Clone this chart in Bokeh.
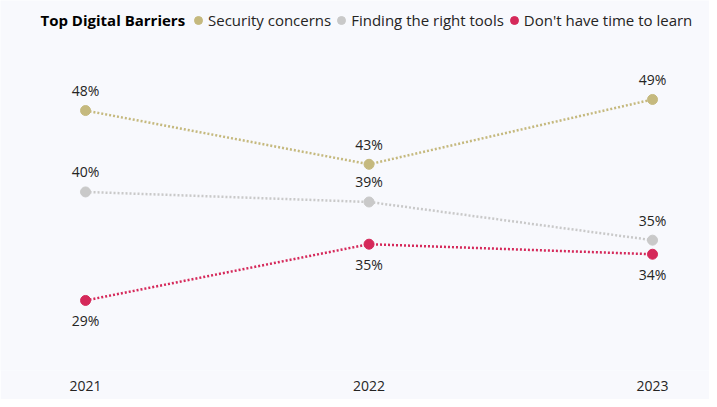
from bokeh.plotting import figure
from bokeh.models import Range1d, FixedTicker, Legend, LegendItem, Label, ColumnDataSource
from bokeh.core.properties import value
from bokeh.embed import file_html
from bokeh.resources import INLINE

# ---- data ----
years = [2021, 2022, 2023]
security = [47.9, 42.55, 49.0]
tools = [39.8, 38.8, 35.0]
no_time = [29.0, 34.6, 33.6]
series_names = ["Security concerns", "Finding the right tools", "Don't have time to learn"]
legend_title = "Top Digital Barriers"
x_title = "Survey Period"

series_values = [security, tools, no_time]
colors = ["#C5B97E", "#C9C9C9", "#D5295A"]
label_side = [-1, -1, 1]  # -1 above, 1 below

FONT = "Open Sans"
TEXT = "#252423"
BG = "#F8F9FD"

Y0, Y1 = 22.03, 58.85
X0, X1 = 2020.700, 2023.201

p = figure(width=709, height=399, output_backend="svg", toolbar_location=None,
           x_range=Range1d(X0, X1), y_range=Range1d(Y0, Y1),
           min_border_left=0, min_border_right=0, min_border_top=0, min_border_bottom=29,
           background_fill_color=BG, border_fill_color=BG, outline_line_color=None)
p.xgrid.visible = False
p.ygrid.visible = False
p.yaxis.visible = False

ax = p.xaxis[0]
ax.ticker = FixedTicker(ticks=years)
ax.major_label_overrides = {y: str(y) for y in years}
ax.axis_line_color = None
ax.major_tick_line_color = None
ax.minor_tick_line_color = None
ax.major_tick_out = 0
ax.major_label_standoff = 10
ax.major_label_text_font = FONT
ax.major_label_text_font_size = "14px"
ax.major_label_text_color = TEXT

items = []
for name, vals, col, side in zip(series_names, series_values, colors, label_side):
    src = ColumnDataSource(dict(x=years, y=vals, lab=[f"{round(v)}%" for v in vals]))
    p.line("x", "y", source=src, line_color=col, line_width=2.5, line_dash="2 2")
    r = p.scatter("x", "y", source=src, size=10, fill_color=col, line_color=col)
    p.text("x", "y", text="lab", source=src, y_offset=20 * side,
           text_align="center", text_baseline="middle",
           text_font=value(FONT), text_font_size="14px", text_color=TEXT)
    items.append(LegendItem(label=name, renderers=[r]))

legend = Legend(items=items, orientation="horizontal", location=(188, 338),
                label_text_font=FONT, label_text_font_size="15px", label_text_color=TEXT,
                glyph_width=20, glyph_height=24, label_height=20, label_standoff=0,
                spacing=0, padding=0, margin=0,
                background_fill_alpha=0, border_line_alpha=0)
p.add_layout(legend, "center")

p.add_layout(Label(x=X0 + 40 / 283.5, y=Y1 - 20 / 10.05, text=legend_title, text_font=FONT,
                   text_font_size="15px", text_font_style="bold", text_color="#000000",
                   text_align="left", text_baseline="middle"))

# faint axis title, mostly cut off at the bottom as in the reference
p.add_layout(Label(x=2022, y=Y1 - 396 / 10.05, text=x_title, text_font=FONT,
                   text_font_size="14px", text_color="#FFFFFF",
                   text_align="center", text_baseline="top"))

open("out.html", "w").write(file_html(p, INLINE))
